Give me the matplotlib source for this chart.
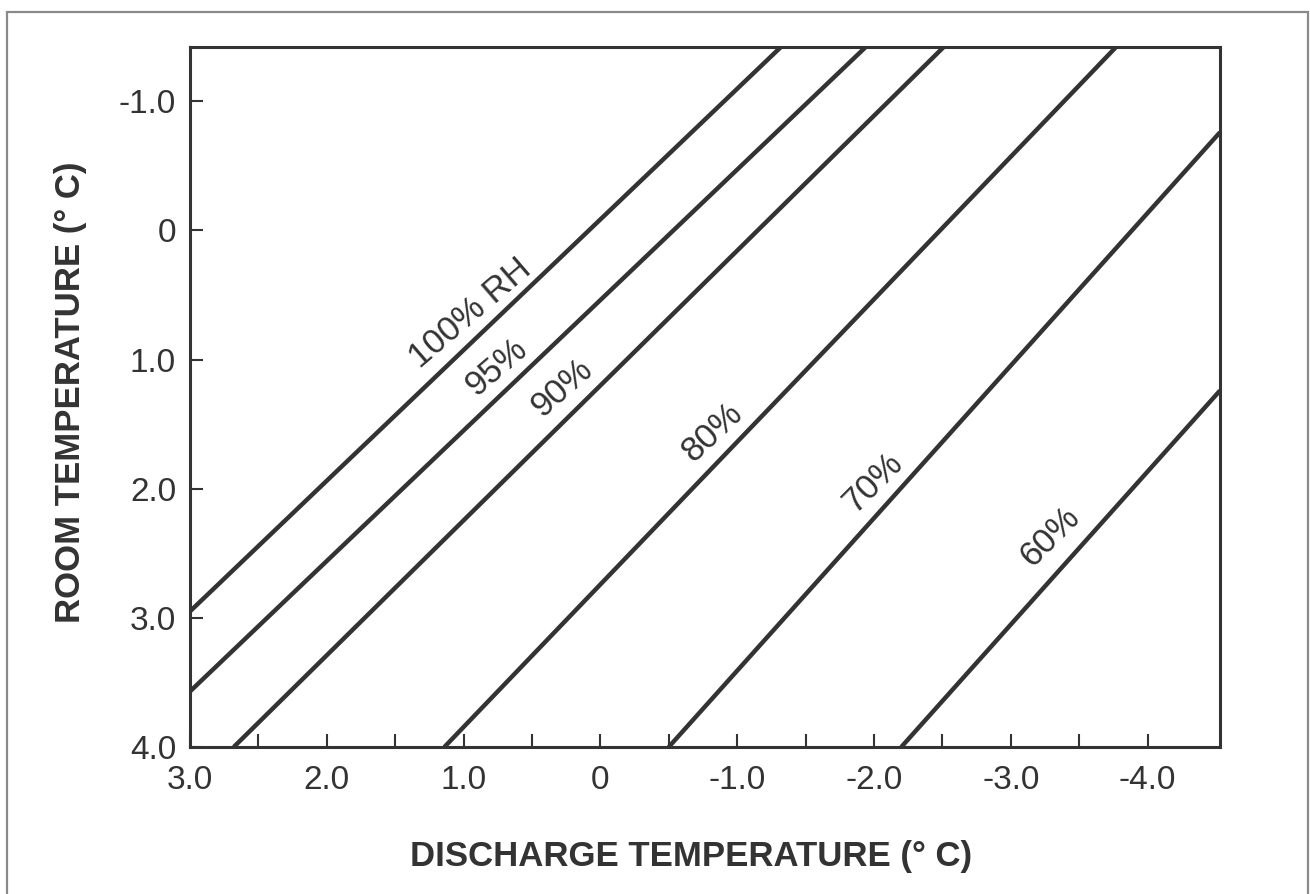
import numpy as np
import matplotlib
matplotlib.use("Agg")
import matplotlib.pyplot as plt
from matplotlib.patches import Rectangle

# relative humidity curves: room temp vs discharge temp
rh_labels = ["100% RH", "95%", "90%", "80%", "70%", "60%"]
discharge_start = [3.00, 3.00, 2.68, 1.14, -0.50, -2.20]
room_start = [2.95, 3.57, 4.00, 4.00, 4.00, 4.00]
discharge_end = [-1.32, -1.94, -2.51, -3.77, -4.53, -4.53]
room_end = [-1.42, -1.42, -1.42, -1.42, -0.76, 1.24]

# where the percent labels sit
label_x = [0.95, 0.76, 0.28, -0.82, -1.99, -3.29]
label_y = [0.64, 1.06, 1.22, 1.56, 1.95, 2.37]

x_ticks = [3.0, 2.0, 1.0, 0, -1.0, -2.0, -3.0, -4.0]
x_ticklabels = ["3.0", "2.0", "1.0", "0", "-1.0", "-2.0", "-3.0", "-4.0"]
y_ticks = [-1.0, 0, 1.0, 2.0, 3.0, 4.0]
y_ticklabels = ["-1.0", "0", "1.0", "2.0", "3.0", "4.0"]

plt.rcParams['font.family'] = ['Liberation Sans', 'DejaVu Sans']
ink = '#333333'

fig = plt.figure(figsize=(13.1, 8.94), dpi=100)
ax = fig.add_axes([0.145, 0.1644, 0.7863, 0.7830])

for i in range(len(rh_labels)):
    ax.plot([discharge_start[i], discharge_end[i]], [room_start[i], room_end[i]],
            color=ink, lw=3.2, solid_capstyle='butt', clip_on=True)

ax.set_xlim(3.0, -4.53)
ax.set_ylim(4.0, -1.42)

ax.set_xticks(x_ticks)
ax.set_xticklabels(x_ticklabels)
ax.set_xticks(np.arange(2.5, -4.0, -1.0), minor=True)
ax.set_yticks(y_ticks)
ax.set_yticklabels(y_ticklabels)

ax.tick_params(axis='both', which='both', direction='in', length=9.5, width=1.5,
               color=ink, labelcolor=ink, labelsize=24)
ax.tick_params(axis='x', which='both', pad=13)
ax.tick_params(axis='y', pad=10)
for s in ax.spines.values():
    s.set_linewidth(2.2)
    s.set_color(ink)

fig.canvas.draw()
for i in range(len(rh_labels)):
    p0 = ax.transData.transform((discharge_start[i], room_start[i]))
    p1 = ax.transData.transform((discharge_end[i], room_end[i]))
    ang = np.degrees(np.arctan2(p1[1] - p0[1], p1[0] - p0[0]))
    ax.text(label_x[i], label_y[i], rh_labels[i], rotation=ang - 3,
            rotation_mode='anchor', ha='center', va='center',
            fontsize=25, color=ink)

fig.text(0.5275, 0.0414, "DISCHARGE TEMPERATURE (° C)", ha='center', va='center',
         fontsize=25, fontweight='bold', color=ink)
fig.text(0.0535, 0.5615, "ROOM TEMPERATURE (° C)", ha='center', va='center',
         rotation=90, fontsize=25, fontweight='bold', color=ink)

# thin frame around the whole picture
fig.patches.append(Rectangle((7 / 1310, -0.01), 1301 / 1310, 0.9966, transform=fig.transFigure,
                             fill=False, edgecolor='#8a8a8a', lw=1.6))

fig.savefig("out.png", dpi=100)
